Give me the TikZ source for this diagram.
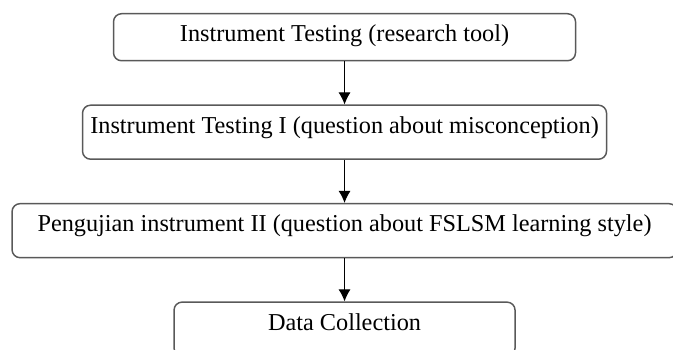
\documentclass[tikz,border=0pt]{standalone}
\usepackage{fontspec}
\setmainfont{Liberation Serif}
\usetikzlibrary{positioning,arrows.meta}

\begin{document}
\begin{tikzpicture}
  \useasboundingbox (0,0) rectangle (504.75pt,-261.75pt);
  \coordinate(top) at (258.4pt,-9.75pt);
  \begin{scope}[
    every node/.style={
      draw=black!65,
      line width=1.1pt,
      rounded corners=6pt,
      align=center,
      inner sep=0pt,
      font=\fontsize{18.2}{22}\selectfont,
      text height=21pt,
      text depth=19.5pt,
    },
    node distance=32.25pt,
    ]
    \node[anchor=north,minimum width=346.5pt,text depth=14.25pt]
      (tool) at (top) {Instrument Testing (research tool)};
    \node[below=of tool,minimum width=393pt]
      (misconc) {Instrument Testing I (question about misconception)};
    \node[below=of misconc,minimum width=498.75pt]
      (lstyle) {Pengujian instrument II (question about FSLSM learning style)};
    \node[below=of lstyle,minimum width=255.75pt]
      (collect) {Data Collection};
  \end{scope}
  \begin{scope}[
    every path/.style={draw,line width=0.75pt,>={Latex[length=9pt,width=9pt]}},
    ]
    \path[->]
    (tool)    edge (misconc)
    (misconc) edge (lstyle)
    (lstyle)  edge (collect);
  \end{scope}
\end{tikzpicture}
\end{document}
